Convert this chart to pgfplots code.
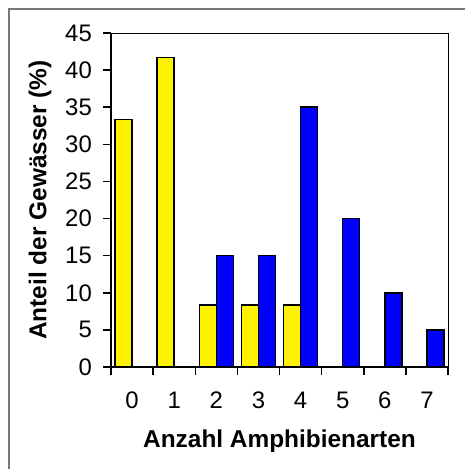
\documentclass[border=0pt]{standalone}
\usepackage{pgfplots}
\pgfplotsset{compat=1.18}
\usepackage{fontspec}
\setmainfont{Liberation Sans}
\definecolor{frame}{RGB}{120,120,120}
\newcommand{\tickfont}{\fontsize{24}{28}\selectfont}
\newcommand{\labfont}{\fontsize{24.5}{29}\selectfont\bfseries}
\begin{document}
\begin{tikzpicture}[x=1bp,y=1bp]
\useasboundingbox[fill=white] (0,0) rectangle (465,469);
\draw[frame, line width=2bp] (9,-5) -- (9,460) -- (470,460);
\begin{axis}[
    at={(111bp,102bp)}, anchor=south west,
    scale only axis,
    width=337bp, height=334bp,
    xmin=-0.5, xmax=7.5,
    ymin=0, ymax=45,
    ytick={0,5,...,45},
    xtick={0,...,7},
    minor xtick={-0.5,0.5,...,7.5},
    major x tick style={draw=none},
    tick pos=left,
    tick align=outside,
    major tick length=8bp,
    minor tick length=8bp,
    every tick/.style={black, line width=1.5bp},
    axis line style={line width=0.8bp},
    /pgf/number format/assume math mode=true,
    xticklabel style={font=\tickfont, anchor=center, yshift=-25bp, inner sep=0pt},
    yticklabel style={font=\tickfont, anchor=east, xshift=-11bp, inner sep=0pt},
    xlabel={Anzahl Amphibienarten},
    ylabel={Anteil der Gewässer (\%)},
    xlabel style={font=\labfont, at={(axis description cs:0.5,-0.2216)}, anchor=center},
    ylabel style={font=\labfont, at={(axis description cs:-0.2107,0.5)}, anchor=center},
    clip=false,
]
\addplot[ybar, bar width=17bp, bar shift=-8.5bp, fill=yellow, draw=black, line width=1.5bp]
  coordinates {(0,33.33) (1,41.67) (2,8.33) (3,8.33) (4,8.33)};
\addplot[ybar, bar width=17bp, bar shift=8.5bp, fill=blue, draw=black, line width=1.5bp]
  coordinates {(2,15) (3,15) (4,35) (5,20) (6,10) (7,5)};
\draw[line width=2bp] (rel axis cs:0,1) -- (rel axis cs:0,0) -- (rel axis cs:1,0);
\end{axis}
\end{tikzpicture}
\end{document}
